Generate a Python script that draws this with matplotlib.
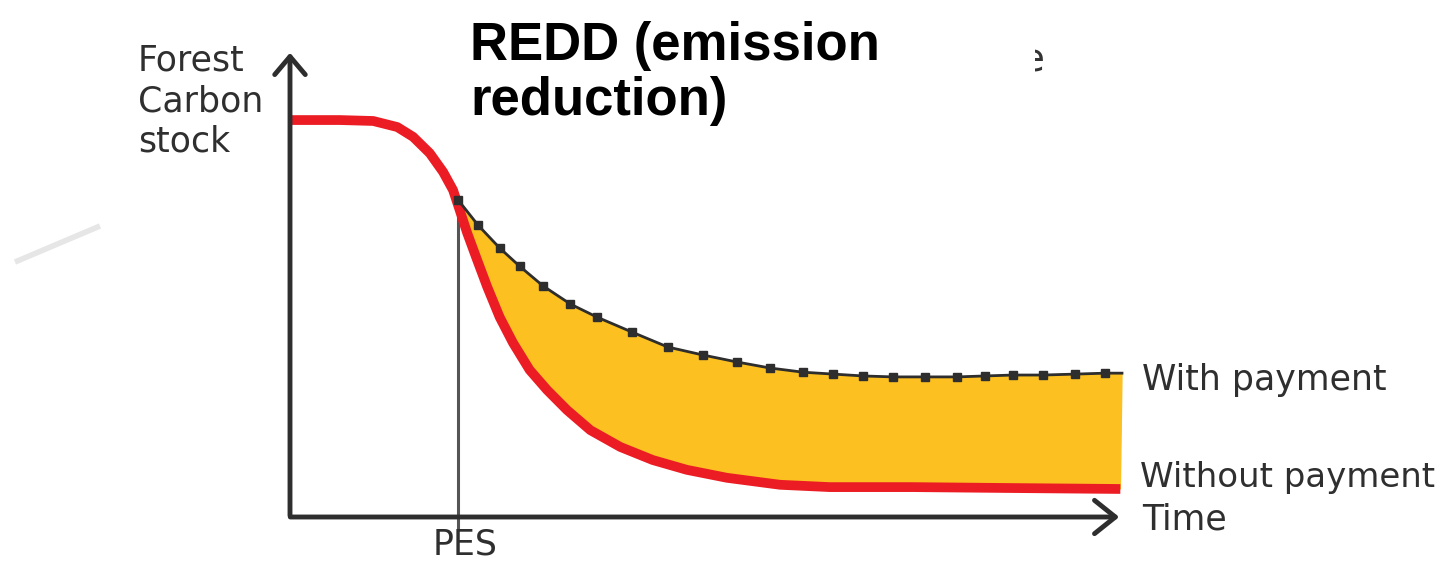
import matplotlib.pyplot as plt
from matplotlib.patches import Rectangle
from matplotlib.lines import Line2D

# schematic values (time 0-100, carbon stock 0-100)
t_without = [0, 6.0, 10.0, 12.9, 14.8, 16.8, 18.4, 19.6, 20.4, 21.3, 22.5, 23.7, 25.2, 26.8,
             28.8, 30.9, 33.3, 36.1, 39.7, 43.6, 47.7, 52.5, 58.9, 64.9, 74.9, 86.9, 99.8]
c_without = [85.0, 85.0, 84.8, 83.5, 81.4, 77.9, 73.9, 70.0, 65.7, 60.8, 55.0, 49.3, 42.8, 37.3,
             31.5, 27.2, 22.9, 18.6, 15.0, 12.2, 10.1, 8.4, 6.9, 6.4, 6.4, 6.2, 6.0]

t_with = [20.2, 22.6, 25.2, 27.6, 30.4, 33.7, 36.9, 41.1, 45.4, 49.6, 53.7, 57.7,
          61.7, 65.3, 68.9, 72.5, 76.3, 80.2, 83.5, 86.9, 90.5, 94.4, 98.0, 100.0]
c_with = [67.9, 62.5, 57.6, 53.7, 49.5, 45.6, 42.8, 39.6, 36.4, 34.7, 33.2, 31.9,
          31.0, 30.6, 30.2, 30.0, 30.0, 30.0, 30.2, 30.4, 30.4, 30.6, 30.8, 30.8]

pes_time = 20.2
y_label = "Forest\nCarbon\nstock"
x_label = "Time"
title = "REDD (emission\nreduction)"

red = "#ec1c24"
yellow = "#fcc021"
dark = "#2e2e2e"

fig = plt.figure(figsize=(14.5, 5.64), dpi=100)
fig.patch.set_facecolor("white")

# faint slide artifact on the left
fig.add_artist(Line2D([15 / 1450, 100 / 1450], [1 - 262 / 564, 1 - 226 / 564],
                      color="#e6e6e6", lw=4, solid_capstyle="butt"))

ax = fig.add_axes([290 / 1450, 47 / 564, 832 / 1450, 467 / 564])
ax.set_xlim(0, 100)
ax.set_ylim(0, 100)
ax.axis("off")

# yellow area between the two scenarios
low = [(t, c) for t, c in zip(t_without, c_without) if t >= pes_time]
t_poly = t_with + [t for t, c in reversed(low)]
c_poly = c_with + [c for t, c in reversed(low)]
ax.fill(t_poly, c_poly, color=yellow, zorder=1, clip_on=False)

# PES line
ax.plot([pes_time, pes_time], [c_with[0], -2.4], color="#555555", lw=2.2, zorder=2, clip_on=False)

# with payment
ax.plot(t_with, c_with, color=dark, lw=2, marker="s", markersize=5.5,
        markevery=list(range(len(t_with) - 1)), zorder=4, clip_on=False)

# without payment
ax.plot(t_without, c_without, color=red, lw=7, solid_joinstyle="round",
        solid_capstyle="butt", zorder=3, clip_on=False)

# axes with open arrowheads
ax.annotate("", xy=(0, 100), xytext=(0, -0.3),
            arrowprops=dict(arrowstyle="->,head_length=1.3,head_width=1.1", lw=3.5, color=dark),
            annotation_clip=False, zorder=5)
ax.annotate("", xy=(100, 0), xytext=(-0.3, 0),
            arrowprops=dict(arrowstyle="->,head_length=1.5,head_width=1.2", lw=3.5, color=dark),
            annotation_clip=False, zorder=5)

txt = dict(family="DejaVu Sans", color="#2f2f2f", clip_on=False)
ax.text(-18.3, 78.2, y_label, fontsize=25, ha="left", va="baseline", linespacing=1.25, **txt)
ax.text(102.4, 27.2, "With payment", fontsize=25, ha="left", va="baseline", **txt)
ax.text(102.2, 6.4, "Without payment", fontsize=24.5, ha="left", va="baseline", **txt)
ax.text(102.4, -2.6, x_label, fontsize=25, ha="left", va="baseline", **txt)
ax.text(pes_time + 0.8, -8.0, "PES", fontsize=25, ha="center", va="baseline", **txt)

# partly hidden text behind the title box
fig.text(1021 / 1450, 1 - 61 / 564, "e", fontsize=28, color="#333333", va="center")
fig.add_artist(Rectangle((455 / 1450, 1 - 135 / 564), (1035 - 455) / 1450, 135 / 564,
                         facecolor="white", edgecolor="none", zorder=6))
fig.text(470 / 1450, 1 - 115 / 564, title, fontsize=38, fontweight="bold",
         family="Liberation Sans", color="black", ha="left", va="baseline",
         linespacing=1.13, zorder=7)

fig.savefig("out.png", dpi=100)
